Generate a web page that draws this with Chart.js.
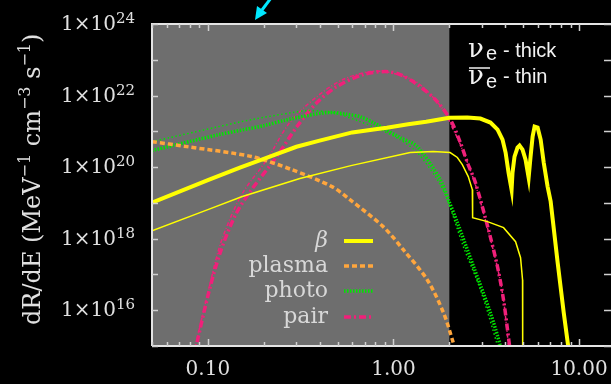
<!DOCTYPE html>
<html>
<head>
<meta charset="utf-8">
<script src="https://cdn.jsdelivr.net/npm/chart.js@4.4.0/dist/chart.umd.min.js"></script>
<style>
  html, body { margin: 0; padding: 0; background: #000; }
  #wrap { width: 611px; height: 384px; }
</style>
</head>
<body>
<div id="wrap"><canvas id="rateChart"></canvas></div>
<script>
// energy (MeV) vs dR/dE
const betaThick = [[0.05,1.02e19],[0.1,4.3e19],[0.15,9.8e19],[0.195,1.62e20],[0.3,3.7e20],[0.4,5.5e20],[0.6,9.33e20],[0.8,1.15e21],[0.92,1.26e21],[1.2,1.58e21],[1.5,1.86e21],[2.0,2.4e21],[2.5,2.43e21],[2.94,2.28e21],[3.33,1.76e21],[3.64,1.12e21],[3.87,5.87e20],[4.02,2.55e20],[4.17,7.0e19],[4.33,2.35e19],[4.38,7.0e19],[4.49,1.97e20],[4.66,3.51e20],[4.78,3.99e20],[4.96,3.09e20],[5.15,1.62e20],[5.35,5.08e19],[5.48,1.97e20],[5.62,7.13e20],[5.76,1.36e21],[5.98,1.27e21],[6.21,5.87e20],[6.45,1.34e20],[6.77,2.85e19],[7.03,1.1e19],[7.67,2.13e17],[8.27,8.5e15],[8.69,1.23e15],[8.9,5e14]];
const betaThin = [[0.05,1.67e18],[0.1,6.47e18],[0.152,1.48e19],[0.313,4.79e19],[0.59,1.1e20],[1.23,2.57e20],[1.64,2.72e20],[2.02,2.55e20],[2.21,1.86e20],[2.35,1.17e20],[2.53,5.42e19],[2.66,2.35e19],[2.67,3.86e18],[3.21,3.0e18],[3.92,2.03e18],[4.55,8.24e17],[4.84,2.94e17],[4.96,7.13e16],[4.97,5e14]];
const plasma = [[0.05,5.16e20],[0.077,3.74e20],[0.172,1.97e20],[0.283,8.5e19],[0.466,2.85e19],[0.583,1.23e19],[0.88,2.17e18],[1.13,4.92e17],[1.52,7.13e16],[1.86,8.5e15],[2.1,1.23e15],[2.2,5e14]];
const photoThick = [[0.05,2.9e20],[0.115,8.1e20],[0.2,1.44e21],[0.26,2.04e21],[0.438,3.34e21],[0.562,3.0e21],[0.66,2.57e21],[0.776,1.76e21],[1.087,6.68e20],[1.343,3.74e20],[1.788,4.47e19],[1.975,1.23e19],[2.21,2.81e18],[2.7,1.65e17],[3.33,8.5e15],[3.77,1.0e15],[3.9,5e14]];
const photoThin = [[0.05,5.16e20],[0.115,1.36e21],[0.172,2.13e21],[0.284,3.34e21],[0.342,3.8e21],[0.472,3.34e21],[0.66,1.87e21],[0.847,1.12e21],[1.087,5.87e20],[1.343,2.55e20],[1.722,4.47e19],[1.951,1.23e19],[2.381,5.97e17],[2.942,3.74e16],[3.64,1.0e15],[3.75,5e14]];
const pairThick = [[0.085,5e14],[0.0869,1.08e15],[0.102,3.74e16],[0.117,4.33e17],[0.141,4.69e18],[0.172,2.35e19],[0.235,1.97e20],[0.302,1.36e21],[0.387,6.37e21],[0.496,1.79e22],[0.686,3.86e22],[0.902,4.69e22],[1.087,3.86e22],[1.343,2.03e22],[1.68,7.73e21],[2.025,2.13e21],[2.294,4.84e20],[2.502,1.34e20],[2.764,3.68e19],[3.25,1.79e18],[3.635,1.65e17],[3.917,1.97e16],[4.222,1.02e15],[4.3,5e14]];
const pairThin = [[0.084,5e14],[0.0858,1.02e15],[0.101,3.74e16],[0.1156,5.97e17],[0.136,5.33e18],[0.158,2.35e19],[0.208,1.62e20],[0.276,1.76e21],[0.387,9.38e21],[0.535,2.81e22],[0.748,4.69e22],[0.96,4.4e22],[1.343,2.31e22],[1.856,4.06e21],[2.076,1.27e21],[2.294,4.26e20],[2.764,3.24e19],[3.25,1.57e18],[3.635,1.55e17],[3.917,1.97e16],[4.169,1.02e15],[4.25,5e14]];

const legendLabels = ['β', 'plasma', 'photo', 'pair'];
const xTickValues = [0.1, 1, 10];
const xTickLabels = ['0.10', '1.00', '10.00'];
const yLabelExps = [16, 18, 20, 22, 24];
const grayEdge = 2.0;

const YELLOW = '#ffff00', ORANGE = '#ffa63d', GREEN = '#00e600', PINK = '#f0207a';

function series(label, pts, color, width, dash, tension, legend) {
  return {
    label: label,
    data: pts.map(p => ({ x: p[0], y: p[1] })),
    borderColor: color,
    borderWidth: width,
    borderDash: dash,
    borderCapStyle: 'butt',
    pointRadius: 0,
    fill: false,
    tension: tension,
    legendRow: legend
  };
}

const datasets = [
  series('beta thick', betaThick, YELLOW, 4, [], 0, 0),
  series('beta thin', betaThin, YELLOW, 1.5, [], 0, -1),
  series('plasma', plasma, ORANGE, 3.5, [5, 3], 0.3, 1),
  series('photo thick', photoThick, GREEN, 3.5, [1.5, 1.5], 0.3, 2),
  series('photo thin', photoThin, GREEN, 1.5, [1.5, 2.5], 0.3, -1),
  series('pair thick', pairThick, PINK, 3.5, [7, 3, 2, 3], 0.3, 3),
  series('pair thin', pairThin, PINK, 1.5, [4, 2, 1, 2], 0.3, -1)
];

const decor = {
  id: 'decor',
  beforeDatasetsDraw(chart) {
    const { ctx, chartArea: a, scales: { x } } = chart;
    ctx.save();
    ctx.fillStyle = '#6e6e6e';
    ctx.fillRect(a.left, a.top, x.getPixelForValue(grayEdge) - a.left, a.bottom - a.top);
    ctx.restore();
  },
  afterDatasetsDraw(chart) {
    const { ctx, chartArea: a, scales: { x, y } } = chart;
    ctx.save();

    // frame
    ctx.strokeStyle = '#e4e4e4';
    ctx.lineWidth = 2;
    ctx.beginPath();
    ctx.moveTo(a.left, a.bottom);
    ctx.lineTo(a.left, a.top);
    ctx.lineTo(a.right + 2, a.top);
    ctx.moveTo(a.left, a.bottom);
    ctx.lineTo(a.right + 2, a.bottom);
    ctx.stroke();

    // ticks
    ctx.strokeStyle = '#d0d0d0';
    ctx.lineWidth = 1.5;
    ctx.beginPath();
    for (let e = 15; e <= 24; e++) {
      const py = Math.round(y.getPixelForValue(Math.pow(10, e))) + 0.5;
      ctx.moveTo(a.left, py); ctx.lineTo(a.left + 6, py);
      ctx.moveTo(a.right - 5, py); ctx.lineTo(a.right + 2, py);
    }
    [0.01, 0.1, 1, 10].forEach(d => {
      for (let m = 1; m <= 9; m++) {
        const v = m * d;
        if (v < 0.05 || v > 14.5) continue;
        const px = Math.round(x.getPixelForValue(v)) + 0.5;
        const len = m === 1 ? 7 : 4;
        ctx.moveTo(px, a.top); ctx.lineTo(px, a.top + len);
        ctx.moveTo(px, a.bottom); ctx.lineTo(px, a.bottom - len);
      }
    });
    ctx.stroke();

    // tick labels
    ctx.fillStyle = '#e0e0e0';
    ctx.font = '20px "DejaVu Serif"';
    ctx.textAlign = 'center';
    ctx.textBaseline = 'alphabetic';
    xTickValues.forEach((v, i) => {
      ctx.fillText(xTickLabels[i], x.getPixelForValue(v), 375);
    });
    yLabelExps.forEach(e => {
      const py = y.getPixelForValue(Math.pow(10, e));
      ctx.font = '15px "DejaVu Serif"';
      const sup = String(e);
      const sw = ctx.measureText(sup).width;
      ctx.textAlign = 'left';
      ctx.fillText(sup, 135 - sw, py - 1);
      ctx.font = '20px "DejaVu Serif"';
      ctx.textAlign = 'right';
      ctx.fillText('1×10', 135 - sw, py + 6);
    });

    // y title
    ctx.translate(40, 325);
    ctx.rotate(-Math.PI / 2);
    ctx.textAlign = 'left';
    let cx = 0;
    [['dR/dE (MeV', 0], ['−1', 1], [' cm', 0], ['−3', 1], [' s', 0], ['−1', 1], [')', 0]].forEach(s => {
      ctx.font = s[1] ? '16px "DejaVu Serif"' : '24px "DejaVu Serif"';
      ctx.fillText(s[0], cx, s[1] ? -10 : 0);
      cx += ctx.measureText(s[0]).width;
    });
    ctx.setTransform(1, 0, 0, 1, 0, 0);

    // legend
    const rows = [247, 272, 297, 323];
    chart.data.datasets.forEach(ds => {
      if (ds.legendRow < 0) return;
      const by = rows[ds.legendRow];
      ctx.fillStyle = '#d8d8d8';
      ctx.textAlign = 'right';
      ctx.font = (ds.legendRow === 0 ? 'italic ' : '') + '22px "DejaVu Serif"';
      ctx.fillText(legendLabels[ds.legendRow], 328, by);
      ctx.strokeStyle = ds.borderColor;
      ctx.lineWidth = ds.borderWidth;
      ctx.setLineDash(ds.borderDash);
      ctx.beginPath();
      ctx.moveTo(344, by - 6);
      ctx.lineTo(373, by - 6);
      ctx.stroke();
      ctx.setLineDash([]);
    });

    // neutrino note
    ctx.fillStyle = '#f2f2f2';
    ctx.textAlign = 'left';
    ctx.font = '26px "DejaVu Serif"';
    ctx.fillText('ν', 468, 57);
    ctx.fillText('ν', 468, 84);
    ctx.font = '20px "Liberation Sans"';
    ctx.fillText('e', 486, 60);
    ctx.fillText('e', 486, 88);
    ctx.fillText('- thick', 503, 57);
    ctx.fillText('- thin', 503, 83);
    ctx.strokeStyle = '#f2f2f2';
    ctx.lineWidth = 1.5;
    ctx.beginPath();
    ctx.moveTo(469, 68); ctx.lineTo(490, 68);
    ctx.stroke();

    // cyan arrow
    ctx.strokeStyle = '#00e8ff';
    ctx.fillStyle = '#00e8ff';
    ctx.lineWidth = 3;
    ctx.beginPath();
    ctx.moveTo(271, -2); ctx.lineTo(262, 10);
    ctx.stroke();
    ctx.beginPath();
    ctx.moveTo(255, 20); ctx.lineTo(257, 6); ctx.lineTo(267, 13);
    ctx.closePath();
    ctx.fill();

    ctx.restore();
  }
};

new Chart(document.getElementById('rateChart'), {
  type: 'line',
  data: { datasets: datasets },
  options: {
    responsive: true,
    maintainAspectRatio: false,
    animation: false,
    layout: { padding: { left: 152, right: 2, top: 24, bottom: 38 } },
    plugins: { legend: { display: false }, tooltip: { enabled: false } },
    scales: {
      x: { type: 'logarithmic', min: 0.05, max: 14.5, display: false },
      y: { type: 'logarithmic', min: 1e15, max: 1e24, display: false }
    }
  },
  plugins: [decor]
});
</script>
</body>
</html>
